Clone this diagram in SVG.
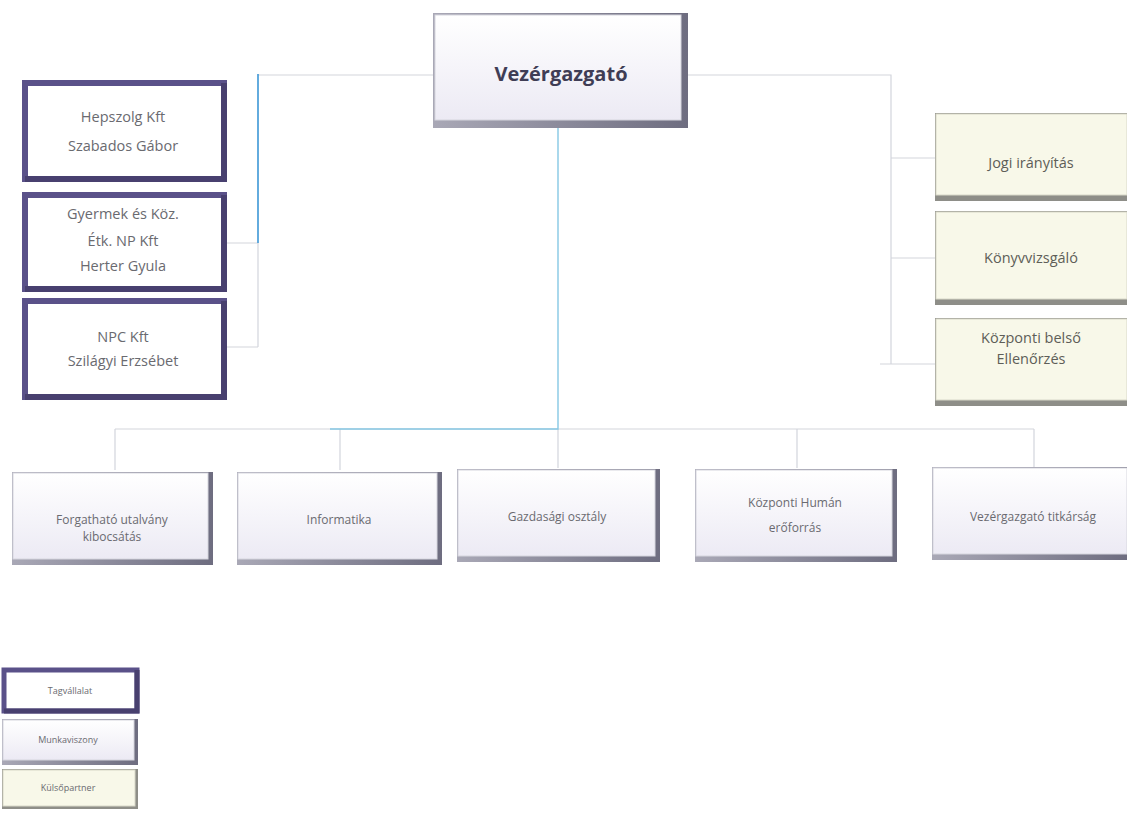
<svg xmlns="http://www.w3.org/2000/svg" width="1127" height="830" viewBox="0 0 1127 830">
<defs>
<linearGradient id="gw" x1="0" y1="0" x2="0" y2="1"><stop offset="0" stop-color="#ffffff"/><stop offset="1" stop-color="#eceaf4"/></linearGradient>
<linearGradient id="gs" x1="0" y1="0" x2="1" y2="0"><stop offset="0" stop-color="#a9a8b6"/><stop offset="1" stop-color="#6e6d80"/></linearGradient>
<style>
.sh{fill:url(#gs)}
.face{fill:url(#gw);stroke:#d6d6de;stroke-width:1}
.cface{fill:#f8f8e9;stroke:#d8d8c8;stroke-width:1}
.csh{fill:#8e8e88}
.pb{fill:#ffffff;stroke:#5a5189;stroke-width:6}
.pbd{fill:none;stroke:#48406f;stroke-width:6}
.t{font-family:"Open Sans","Liberation Sans",sans-serif;fill:#6a6a70;text-anchor:middle}
.tl{font-size:14.5px}
.tb{font-size:12px}
.tr{font-size:14.5px;fill:#5e5e58}
.tg{font-size:9px}
.ln{fill:none;stroke:#d3d5dc;stroke-width:1.2}
.bl{fill:none;stroke:#3d97d6;stroke-width:1.6}
.lb{fill:none;stroke:#86c8e4;stroke-width:1.4}
</style>
</defs>
<rect width="1127" height="830" fill="#ffffff"/>
<g id="connectors">
<path class="ln" d="M258 75 H435 M688 75 H891 V364 M891 158 H935 M891 258 H935 M880 364 H935"/>
<path class="ln" d="M258 243 V347 M227 243 H258 M227 347 H258"/>
<path class="bl" d="M258 74 V243"/>
<path class="ln" d="M115 429 H1034 M115 429 V470 M340 429 V470 M558 429 V468 M797 429 V468 M1034 429 V467"/>
<path class="lb" d="M558 127 V429 H330"/>
</g>
<g id="vezergazgato">
<rect class="sh" x="433" y="13" width="255" height="115"/>
<rect class="face" x="435" y="15" width="246" height="105"/>
<text class="t" x="561" y="81" style="font-size:20px;font-weight:bold;fill:#3f3d55">Vezérgazgató</text>
</g>
<g id="hepszolg">
<rect class="pb" x="25" y="83" width="199" height="96"/>
<path class="pbd" d="M224 83 V179 H25"/>
<text class="t tl" x="123" y="122">Hepszolg Kft</text>
<text class="t tl" x="123" y="151">Szabados Gábor</text>
</g>
<g id="gyermek">
<rect class="pb" x="25" y="195" width="199" height="94"/>
<path class="pbd" d="M224 195 V289 H25"/>
<text class="t tl" x="123" y="219">Gyermek és Köz.</text>
<text class="t tl" x="123" y="246">Étk. NP Kft</text>
<text class="t tl" x="123" y="271">Herter Gyula</text>
</g>
<g id="npc">
<rect class="pb" x="25" y="301" width="199" height="96"/>
<path class="pbd" d="M224 301 V397 H25"/>
<text class="t tl" x="123" y="342">NPC Kft</text>
<text class="t tl" x="123" y="366">Szilágyi Erzsébet</text>
</g>
<g id="jogi">
<rect class="csh" x="935" y="113" width="192" height="88"/>
<rect class="cface" x="936" y="114" width="191" height="81"/>
<text class="t tr" x="1031" y="168">Jogi irányítás</text>
</g>
<g id="konyvvizsgalo">
<rect class="csh" x="935" y="211" width="192" height="94"/>
<rect class="cface" x="936" y="212" width="191" height="87"/>
<text class="t tr" x="1031" y="263">Könyvvizsgáló</text>
</g>
<g id="kozponti-belso">
<rect class="csh" x="935" y="318" width="192" height="88"/>
<rect class="cface" x="936" y="319" width="191" height="81"/>
<text class="t tr" x="1031" y="343">Központi belső</text>
<text class="t tr" x="1031" y="364">Ellenőrzés</text>
</g>
<g id="forgathato">
<rect class="sh" x="12" y="472" width="201" height="93"/>
<rect class="face" x="13" y="473" width="195" height="86"/>
<text class="t tb" x="112" y="524">Forgatható utalvány</text>
<text class="t tb" x="112" y="541">kibocsátás</text>
</g>
<g id="informatika">
<rect class="sh" x="237" y="472" width="205" height="93"/>
<rect class="face" x="238" y="473" width="199" height="86"/>
<text class="t tb" x="339" y="524">Informatika</text>
</g>
<g id="gazdasagi">
<rect class="sh" x="457" y="469" width="203" height="93"/>
<rect class="face" x="458" y="470" width="197" height="86"/>
<text class="t tb" x="557" y="521">Gazdasági osztály</text>
</g>
<g id="human">
<rect class="sh" x="695" y="469" width="202" height="93"/>
<rect class="face" x="696" y="470" width="196" height="86"/>
<text class="t tb" x="795" y="507">Központi Humán</text>
<text class="t tb" x="795" y="532">erőforrás</text>
</g>
<g id="titkarsag">
<rect class="sh" x="932" y="467" width="195" height="93"/>
<rect class="face" x="933" y="468" width="194" height="86"/>
<text class="t tb" x="1033" y="521">Vezérgazgató titkárság</text>
</g>
<g id="legend-tagvallalat">
<rect class="pb" x="4" y="670" width="133" height="41" style="stroke-width:5"/>
<path class="pbd" d="M137 670 V711 H4" style="stroke-width:5"/>
<text class="t tg" x="70" y="694">Tagvállalat</text>
</g>
<g id="legend-munkaviszony">
<rect class="sh" x="2" y="719" width="136" height="46"/>
<rect class="face" x="3" y="720" width="131" height="40"/>
<text class="t tg" x="68" y="743">Munkaviszony</text>
</g>
<g id="legend-kulsopartner">
<rect class="csh" x="2" y="769" width="136" height="40"/>
<rect class="cface" x="3" y="770" width="132" height="36"/>
<text class="t tg" x="68" y="791">Külsőpartner</text>
</g>
</svg>
